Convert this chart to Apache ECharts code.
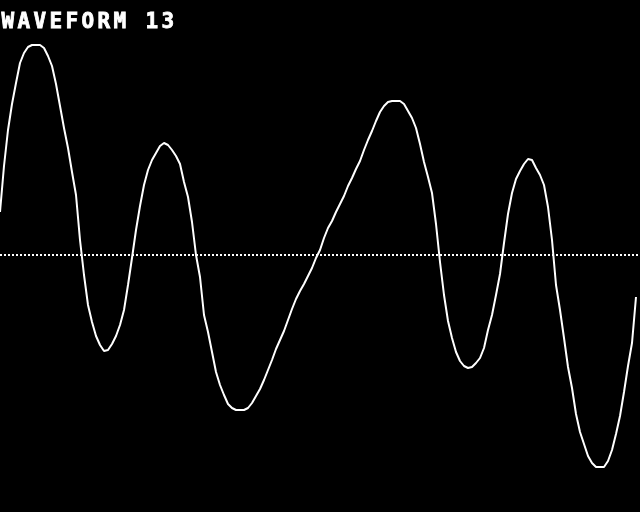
<!DOCTYPE html>
<html>
<head>
<meta charset="utf-8">
<script src="https://cdn.jsdelivr.net/npm/echarts@6/dist/echarts.min.js"></script>
<style>
html,body{margin:0;padding:0;background:#000;}
#chart{width:640px;height:512px;}
</style>
</head>
<body>
<div id="chart"></div>
<script>
const titleText = "WAVEFORM 13";
const sampleStep = 1; // sample index step
const baseline = 0;
const waveValues = [
 0.43, 0.89, 1.25, 1.51, 1.72, 1.92, 2.02, 2.08, 2.10, 2.10,
 2.10, 2.07, 1.99, 1.89, 1.71, 1.49, 1.27, 1.07, 0.83, 0.60,
 0.15, -0.20, -0.50, -0.67, -0.81, -0.90, -0.96, -0.95, -0.89, -0.81,
 -0.70, -0.55, -0.30, -0.03, 0.25, 0.49, 0.70, 0.85, 0.95, 1.02,
 1.09, 1.12, 1.10, 1.05, 0.99, 0.91, 0.73, 0.58, 0.33, 0.00,
 -0.22, -0.60, -0.77, -0.97, -1.17, -1.30, -1.40, -1.49, -1.53, -1.55,
 -1.55, -1.55, -1.53, -1.48, -1.41, -1.34, -1.25, -1.15, -1.05, -0.94,
 -0.85, -0.76, -0.65, -0.54, -0.44, -0.36, -0.29, -0.21, -0.13, -0.03,
 0.05, 0.17, 0.27, 0.34, 0.43, 0.51, 0.59, 0.69, 0.77, 0.86,
 0.94, 1.05, 1.15, 1.24, 1.34, 1.43, 1.49, 1.53, 1.54, 1.54,
 1.54, 1.51, 1.44, 1.37, 1.27, 1.11, 0.93, 0.78, 0.62, 0.31,
 -0.07, -0.40, -0.66, -0.83, -0.97, -1.06, -1.11, -1.13, -1.12, -1.08,
 -1.03, -0.93, -0.75, -0.60, -0.40, -0.19, 0.12, 0.41, 0.62, 0.76,
 0.84, 0.91, 0.96, 0.95, 0.87, 0.80, 0.70, 0.48, 0.15, -0.30,
 -0.55, -0.83, -1.12, -1.33, -1.59, -1.77, -1.89, -2.01, -2.08, -2.12,
 -2.12, -2.12, -2.06, -1.95, -1.79, -1.61, -1.37, -1.11, -0.88, -0.42
];

const chart = echarts.init(document.getElementById('chart'), null, {renderer:'canvas'});
const seriesData = waveValues.map((v, i) => [i * sampleStep, v]);

const titleGraphics = titleText.split('').map((ch, i) => ({
  type: 'text',
  left: 1 + i * 16,
  top: 12,
  style: {
    text: ch,
    fill: '#ffffff',
    stroke: '#ffffff',
    lineWidth: 0.8,
    font: 'bold 21px "DejaVu Sans Mono", monospace'
  }
}));

chart.setOption({
  backgroundColor: '#000000',
  animation: false,
  grid: {left: 0, right: 0, top: 0, bottom: 0},
  xAxis: {
    type: 'value', min: 0, max: 160,
    show: false
  },
  yAxis: {
    type: 'value', min: -2.57, max: 2.55,
    show: false
  },
  graphic: titleGraphics,
  series: [{
    type: 'line',
    data: seriesData,
    symbol: 'none',
    smooth: false,
    lineStyle: {color: '#ffffff', width: 2},
    markLine: {
      silent: true,
      symbol: ['none', 'none'],
      label: {show: false},
      lineStyle: {color: '#ffffff', width: 2, type: [2, 2]},
      data: [{yAxis: baseline}]
    }
  }]
});
</script>
</body>
</html>
